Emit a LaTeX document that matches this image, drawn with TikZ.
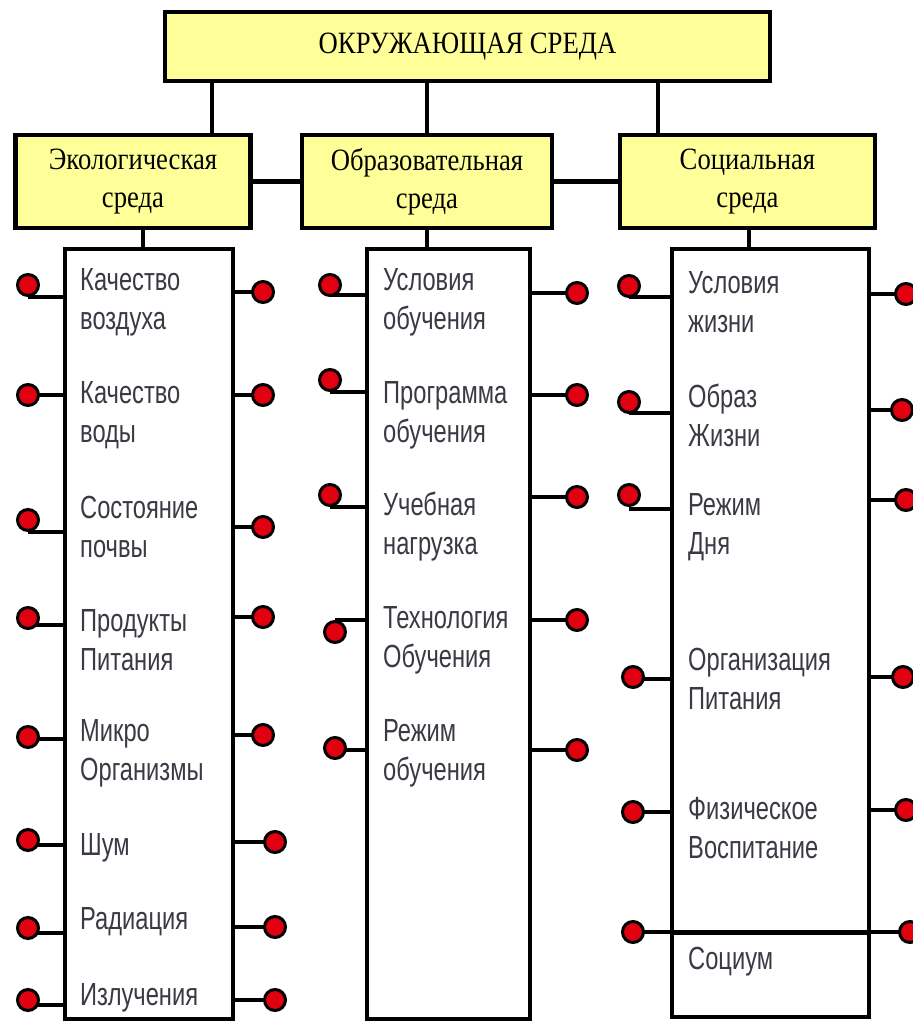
\documentclass[tikz,border=0pt]{standalone}
\usepackage{fontspec}
\newfontfamily\headfont[FakeStretch=0.86]{Liberation Serif}
\newfontfamily\itemfont[FakeStretch=0.74]{Liberation Sans}
\definecolor{headyellow}{HTML}{FFFF99}
\definecolor{pinred}{HTML}{E00010}
\definecolor{itemgray}{HTML}{3A3A44}

\begin{document}
\begin{tikzpicture}[x=1pt, y=-1pt,
    head/.style={rectangle, draw, line width=4.5pt, fill=headyellow, align=center, inner sep=0pt,
        font=\headfont\fontsize{31}{38}\selectfont},
    column/.style={rectangle, draw, line width=3.5pt, fill=white, inner sep=0pt},
    item/.style={anchor=west, align=left, inner sep=0pt, text=itemgray,
        font=\itemfont\fontsize{32}{39}\selectfont},
    pindot/.style={circle, draw, line width=3pt, fill=pinred, minimum size=21pt, inner sep=0pt},
    link/.style={line width=3.5pt}]

    \useasboundingbox (0,0) rectangle (913,1023);

    % top level
    \node[head, minimum width=605pt, minimum height=69pt] (env) at (467.5,46.5) {ОКРУЖАЮЩАЯ СРЕДА};

    % second level
    \node[head, minimum width=235pt, minimum height=93pt] (eco) at (133,181.5) {Экологическая\\среда};
    \node[head, minimum width=250pt, minimum height=93pt] (edu) at (427,181.5) {Образовательная\\среда};
    \node[head, minimum width=255pt, minimum height=93pt] (soc) at (747.5,181.5) {Социальная\\среда};

    \coordinate (t1) at (212,81);
    \coordinate (t3) at (658,81);
    \draw[link] (t1) -- (t1 |- eco.north);
    \draw[link] (edu.north |- env.south) -- (edu.north);
    \draw[link] (t3) -- (t3 |- soc.north);
    \draw[link, line width=4.5pt] (eco.east) -- (edu.west);
    \draw[link, line width=4.5pt] (edu.east) -- (soc.west);

    % columns
    \node[column, minimum width=168pt, minimum height=770pt] (ecol) at (149,634) {};
    \node[column, minimum width=163pt, minimum height=770pt] (educ) at (448.5,634) {};
    \node[column, minimum width=197pt, minimum height=768pt] (socc) at (770.5,633) {};

    \coordinate (d1) at (143,228);
    \coordinate (d2) at (427,228);
    \coordinate (d3) at (749,228);
    \draw[link] (d1) -- (d1 |- ecol.north);
    \draw[link] (d2) -- (d2 |- educ.north);
    \draw[link] (d3) -- (d3 |- socc.north);

    % Экологическая среда
    \foreach \txt/\yy [count=\i] in {{Качество\\воздуха}/302, {Качество\\воды}/415,
            {Состояние\\почвы}/527, {Продукты\\Питания}/640, {Микро\\Организмы}/753,
            {Шум}/848, {Радиация}/922, {Излучения}/998}
        \node[item] (ei\i) at (80,\yy) {\txt};
    \foreach \px/\py/\ly [count=\i] in {28/285/297, 28/395/395, 28/520/532, 28/618/625,
            28/737/739, 28/840/845, 28/928/933, 28/1000/1005} {
        \coordinate (eL\i) at (\px,\ly);
        \draw[link] (eL\i) -- (eL\i -| ecol.west);
        \node[pindot] (eLd\i) at (\px,\py) {};
    }
    \foreach \px/\py [count=\i] in {263/292, 263/395, 263/527, 263/617,
            263/735, 275/842, 275/927, 275/1000} {
        \coordinate (eR\i) at (\px,\py);
        \draw[link] (eR\i -| ecol.east) -- (eR\i);
        \node[pindot] (eRd\i) at (eR\i) {};
    }

    % Образовательная среда
    \foreach \txt/\yy [count=\i] in {{Условия\\обучения}/302, {Программа\\обучения}/415,
            {Учебная\\нагрузка}/527, {Технология\\Обучения}/640, {Режим\\обучения}/753}
        \node[item] (bi\i) at (383,\yy) {\txt};
    \foreach \px/\py/\ly [count=\i] in {330/285/295, 330/380/392, 330/495/507,
            335/632/620, 335/748/750} {
        \coordinate (bL\i) at (\px,\ly);
        \draw[link] (bL\i) -- (bL\i -| educ.west);
        \node[pindot] (bLd\i) at (\px,\py) {};
    }
    \foreach \px/\py [count=\i] in {577/293, 577/395, 577/497, 577/620, 577/750} {
        \coordinate (bR\i) at (\px,\py);
        \draw[link] (bR\i -| educ.east) -- (bR\i);
        \node[pindot] (bRd\i) at (bR\i) {};
    }

    % Социальная среда
    \foreach \txt/\yy [count=\i] in {{Условия\\жизни}/302, {Образ\\Жизни}/415,
            {Режим\\Дня}/527, {Организация\\Питания}/679, {Физическое\\Воспитание}/828,
            {Социум}/962}
        \node[item] (si\i) at (688,\yy) {\txt};
    \draw[line width=5pt] (socc.west |- 0,932) -- (socc.east |- 0,932);
    \foreach \px/\py/\ly [count=\i] in {629/286/297, 629/402/413, 629/495/509,
            633/677/679, 633/812/812, 633/932/932} {
        \coordinate (sL\i) at (\px,\ly);
        \draw[link] (sL\i) -- (sL\i -| socc.west);
        \node[pindot] (sLd\i) at (\px,\py) {};
    }
    \foreach \px/\py [count=\i] in {906/294, 902/410, 906/500, 903/677, 906/810, 910/932} {
        \coordinate (sR\i) at (\px,\py);
        \draw[link] (sR\i -| socc.east) -- (sR\i);
        \node[pindot] (sRd\i) at (sR\i) {};
    }

\end{tikzpicture}
\end{document}
